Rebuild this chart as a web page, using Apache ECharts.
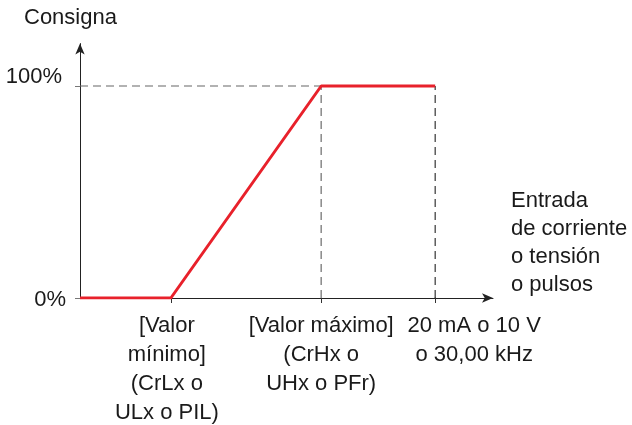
<!DOCTYPE html>
<html><head><meta charset="utf-8">
<script src="https://cdn.jsdelivr.net/npm/echarts@6/dist/echarts.min.js"></script>
<style>html,body{margin:0;padding:0;background:#fff}#c{width:632px;height:425px}</style>
</head><body><div id="c"></div>
<script>
// ---- data ----
const yTitle = 'Consigna';
const xTitle = 'Entrada\nde corriente\no tensión\no pulsos';
const xTickValues = [22, 58.4, 86];
const xTickLabels = ['[Valor\nmínimo]\n(CrLx o\nULx o PIL)', '[Valor máximo]\n(CrHx o\nUHx o PFr)', '20 mA o 10 V\no 30,00 kHz'];
const yTickValues = [0, 100];
const yTickLabels = ['0%', '100%'];
const curveX = [0, 22, 58.4, 86];
const curveY = [0, 0, 100, 100];
const xMaxAxis = 100;
const yMaxAxis = 120;

const FONT = "'Liberation Sans', Arial, sans-serif";
const FS = 22;
const TXT = '#1a1a1a';
const chart = echarts.init(document.getElementById('c'), null, {renderer: 'canvas'});

const curve = curveX.map((x, i) => [x, curveY[i]]);
const guideH = [[0, curveY[2]], [curveX[2], curveY[2]]];
const guideV1 = [[xTickValues[1], 0], [xTickValues[1], curveY[2]]];
const guideV2 = [[xTickValues[2], 0], [xTickValues[2], curveY[3]]];
const axisLabelValues = xTickValues.slice(0, 2);

const xRich = ['l', 'm'];
chart.setOption({
  animation: false,
  title: [
    {text: yTitle, left: 19, top: 2, textStyle: {fontFamily: FONT, fontSize: FS, fontWeight: 'normal', color: TXT}},
    {text: xTitle, left: 506, top: 182, textStyle: {fontFamily: FONT, fontSize: FS, fontWeight: 'normal', color: TXT, lineHeight: 28}}
  ],
  grid: {left: 80, right: 139, top: 43.6, bottom: 127, containLabel: false},
  xAxis: {
    type: 'value', min: 0, max: xMaxAxis,
    axisLine: {show: true, symbol: ['none', 'arrow'], symbolSize: [7, 11], lineStyle: {color: '#222', width: 1}},
    axisTick: {show: true, customValues: xTickValues, length: 5, lineStyle: {color: '#333'}},
    splitLine: {show: false},
    axisLabel: {
      customValues: axisLabelValues, margin: 13, hideOverlap: false,
      formatter: (v) => { const i = xTickValues.indexOf(v); return i < 0 ? '' : '{' + xRich[i] + '|' + xTickLabels[i] + '}'; },
      rich: {
        l: {fontFamily: FONT, fontSize: FS, color: TXT, lineHeight: 29, padding: [0, 8, 0, 0]},
        m: {fontFamily: FONT, fontSize: FS, color: TXT, lineHeight: 29}
      }
    }
  },
  yAxis: {
    type: 'value', min: 0, max: yMaxAxis,
    axisLine: {show: true, symbol: ['none', 'arrow'], symbolSize: [7, 11], lineStyle: {color: '#222', width: 1}},
    axisTick: {show: true, customValues: yTickValues, length: 5, lineStyle: {color: '#777'}},
    splitLine: {show: false},
    axisLabel: {
      customValues: yTickValues, margin: 14, hideOverlap: false,
      formatter: (v) => { const i = yTickValues.indexOf(v); return i < 0 ? '' : (i === 1 ? '{u|' + yTickLabels[i] + '}' : '{d|' + yTickLabels[i] + '}'); },
      rich: {
        u: {fontFamily: FONT, fontSize: FS, color: TXT, padding: [0, 4, 18, 0]},
        d: {fontFamily: FONT, fontSize: FS, color: TXT, padding: [4, 0, 0, 0]}
      }
    }
  },
  series: [
    {type: 'line', data: guideH, symbol: 'none', silent: true, lineStyle: {color: '#666', width: 1.2, type: [8, 5]}, z: 1},
    {type: 'line', data: guideV1, symbol: 'none', silent: true, lineStyle: {color: '#888', width: 1.5, type: [8, 5]}, z: 1},
    {type: 'line', data: guideV2, symbol: 'none', silent: true, lineStyle: {color: '#333', width: 1.2, type: [8, 5]}, z: 1},
    {type: 'line', data: curve, symbol: 'none', lineStyle: {color: '#e8212b', width: 3}, z: 3},
    {type: 'scatter', data: [[xTickValues[2], 0]], symbol: 'rect', symbolSize: 1, silent: true,
     itemStyle: {color: '#222', opacity: 1}, z: 4,
     label: {show: true, position: 'bottom', distance: 12.5, offset: [39, 0], formatter: xTickLabels[2],
             fontFamily: FONT, fontSize: FS, color: TXT, opacity: 1, textBorderWidth: 0, lineHeight: 29, align: 'center'}}
  ]
});
</script></body></html>
